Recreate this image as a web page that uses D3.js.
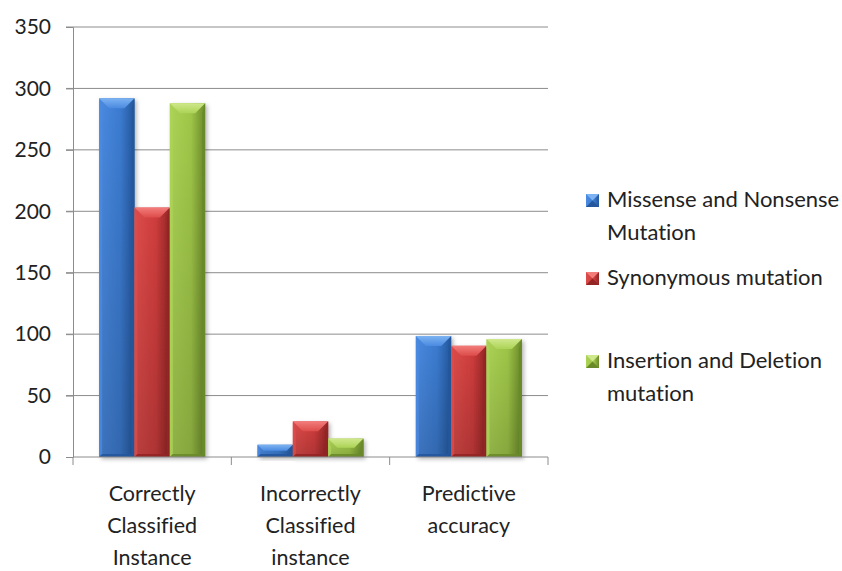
<!DOCTYPE html>
<html>
<head>
<meta charset="utf-8">
<script src="https://cdn.jsdelivr.net/npm/d3@7/dist/d3.min.js"></script>
<style>
  html, body { margin: 0; padding: 0; background: #fff; }
  svg { display: block; }
  text { font-family: Lato, "Open Sans", sans-serif; fill: #222; font-variant-ligatures: none; font-feature-settings: "liga" 0; }
</style>
</head>
<body>
<svg id="chart" width="842" height="571"></svg>
<script>
// Categories along the x axis (each label is split over lines)
const categories = ["Correctly Classified Instance", "Incorrectly Classified instance", "Predictive accuracy"];
const categoryLines = [["Correctly", "Classified", "Instance"], ["Incorrectly", "Classified", "instance"], ["Predictive", "accuracy"]];

// Series
const seriesNames = ["Missense and Nonsense Mutation", "Synonymous mutation", "Insertion and Deletion mutation"];
const legendLines = [["Missense and Nonsense", "Mutation"], ["Synonymous mutation"], ["Insertion and Deletion", "mutation"]];
const missenseValues = [292, 10, 98.5];
const synonymousValues = [203, 29, 90.5];
const indelValues = [288, 15, 96];
const seriesValues = [missenseValues, synonymousValues, indelValues];

// Y axis ticks
const yTicks = [0, 50, 100, 150, 200, 250, 300, 350];

const palette = [
  { base: "#3b7bd0", light: "#7db3f2", mid: "#4a8ae0", dark: "#24579c" },
  { base: "#cf3d3d", light: "#f27c7a", mid: "#dc4c4a", dark: "#932525" },
  { base: "#9fc648", light: "#cfe88c", mid: "#acd356", dark: "#6a8a2a" }
];

const svg = d3.select("#chart");
const plot = { left: 73, right: 548, top: 27, bottom: 457 };

const y = d3.scaleLinear().domain([0, 350]).range([plot.bottom, plot.top]);
const x0 = d3.scaleBand().domain(categories).range([plot.left, plot.right]).padding(0);
const x1 = d3.scaleBand().domain(seriesNames).range([0, x0.bandwidth()])
  .paddingInner(0).paddingOuter(0.74);

// Gradients for bar faces
const defs = svg.append("defs");
palette.forEach((c, i) => {
  const g = defs.append("linearGradient").attr("id", "face" + i)
    .attr("x1", 0).attr("x2", 1).attr("y1", 0).attr("y2", 0);
  g.append("stop").attr("offset", "0%").attr("stop-color", c.mid);
  g.append("stop").attr("offset", "60%").attr("stop-color", c.base);
  g.append("stop").attr("offset", "100%").attr("stop-color", c.dark);
  const t = defs.append("linearGradient").attr("id", "top" + i)
    .attr("x1", 0).attr("x2", 0).attr("y1", 0).attr("y2", 1);
  t.append("stop").attr("offset", "0%").attr("stop-color", c.light);
  t.append("stop").attr("offset", "100%").attr("stop-color", c.mid);
});
const shade = defs.append("linearGradient").attr("id", "shade")
  .attr("x1", 0).attr("x2", 0).attr("y1", 0).attr("y2", 1);
shade.append("stop").attr("offset", "0%").attr("stop-color", "#000").attr("stop-opacity", 0);
shade.append("stop").attr("offset", "100%").attr("stop-color", "#000").attr("stop-opacity", 0.16);
const shadow = defs.append("filter").attr("id", "shadow")
  .attr("x", "-20%").attr("y", "-20%").attr("width", "150%").attr("height", "150%");
shadow.append("feDropShadow").attr("dx", 2).attr("dy", 2).attr("stdDeviation", 2)
  .attr("flood-color", "#000").attr("flood-opacity", 0.3);

// Horizontal gridlines with tick stubs
svg.append("g").selectAll("line").data(yTicks.filter(d => d > 0)).join("line")
  .attr("x1", plot.left - 7).attr("x2", plot.right)
  .attr("y1", d => y(d)).attr("y2", d => y(d))
  .attr("stroke", "#8c8c8c").attr("stroke-width", 1);

// Y axis
const yAxis = d3.axisLeft(y).tickValues(yTicks).tickSize(7).tickPadding(15);
const yg = svg.append("g").attr("transform", `translate(${plot.left},0)`).call(yAxis);
yg.select(".domain").attr("stroke", "#8c8c8c");
yg.selectAll(".tick line").attr("stroke", "#8c8c8c");
yg.selectAll(".tick text").attr("font-size", 21).attr("fill", "#222")
  .style("font-family", "Lato, 'Open Sans', sans-serif");

// Bars
const bars = svg.append("g");
categories.forEach((cat, ci) => {
  seriesNames.forEach((s, si) => {
    const v = seriesValues[si][ci];
    const bx = x0(cat) + x1(s);
    const bw = x1.bandwidth();
    const by = y(v);
    const bh = y(0) - by;
    const c = palette[si];
    const g = bars.append("g");
    g.append("rect").attr("x", bx).attr("y", by).attr("width", bw).attr("height", bh)
      .attr("fill", `url(#face${si})`).attr("filter", "url(#shadow)");
    g.append("rect").attr("x", bx).attr("y", by).attr("width", bw).attr("height", bh)
      .attr("fill", "url(#shade)");
    const b = Math.min(10, bh / 2);
    const s2 = Math.min(3, bw / 4);
    // top bevel
    g.append("path").attr("d", `M${bx},${by}L${bx + bw},${by}L${bx + bw - b},${by + b}L${bx + b},${by + b}Z`)
      .attr("fill", `url(#top${si})`);
    // left edge
    g.append("path").attr("d", `M${bx},${by}L${bx + s2},${by + b}L${bx + s2},${by + bh - s2}L${bx},${by + bh}Z`)
      .attr("fill", c.mid).attr("opacity", 0.8);
    // right edge
    g.append("path").attr("d", `M${bx + bw},${by}L${bx + bw - s2},${by + b}L${bx + bw - s2},${by + bh - s2}L${bx + bw},${by + bh}Z`)
      .attr("fill", c.dark);
    // bottom edge
    g.append("path").attr("d", `M${bx},${by + bh}L${bx + s2},${by + bh - s2}L${bx + bw - s2},${by + bh - s2}L${bx + bw},${by + bh}Z`)
      .attr("fill", c.dark).attr("opacity", 0.9);
  });
});

// X axis baseline and category boundary ticks
const xg = svg.append("g");
xg.append("line").attr("x1", plot.left).attr("x2", plot.right)
  .attr("y1", plot.bottom).attr("y2", plot.bottom).attr("stroke", "#8c8c8c");
const bounds = categories.map(c => x0(c)).concat([plot.right]);
xg.selectAll("line.tk").data(bounds).join("line").attr("class", "tk")
  .attr("x1", d => d).attr("x2", d => d)
  .attr("y1", plot.bottom).attr("y2", plot.bottom + 8).attr("stroke", "#8c8c8c");

// Category labels
categories.forEach((cat, ci) => {
  const t = xg.append("text").attr("text-anchor", "middle").attr("font-size", 21.5)
    .attr("x", x0(cat) + x0.bandwidth() / 2).attr("y", 501);
  categoryLines[ci].forEach((ln, li) => {
    t.append("tspan").attr("x", x0(cat) + x0.bandwidth() / 2).attr("dy", li === 0 ? 0 : 32).text(ln);
  });
});

// Legend
const legendTops = [194, 272, 355];
const lg = svg.append("g");
seriesNames.forEach((s, si) => {
  const ty = legendTops[si];
  const c = palette[si];
  lg.append("rect").attr("x", 586).attr("y", ty).attr("width", 13).attr("height", 13)
    .attr("fill", `url(#face${si})`);
  lg.append("path").attr("d", `M586,${ty}L599,${ty}L592.5,${ty + 6.5}Z`).attr("fill", c.light);
  lg.append("path").attr("d", `M586,${ty + 13}L599,${ty + 13}L592.5,${ty + 6.5}Z`).attr("fill", c.dark);
  const t = lg.append("text").attr("font-size", 22).attr("x", 607).attr("y", ty + 13);
  legendLines[si].forEach((ln, li) => {
    t.append("tspan").attr("x", 607).attr("dy", li === 0 ? 0 : 33).text(ln);
  });
});
</script>
</body>
</html>
